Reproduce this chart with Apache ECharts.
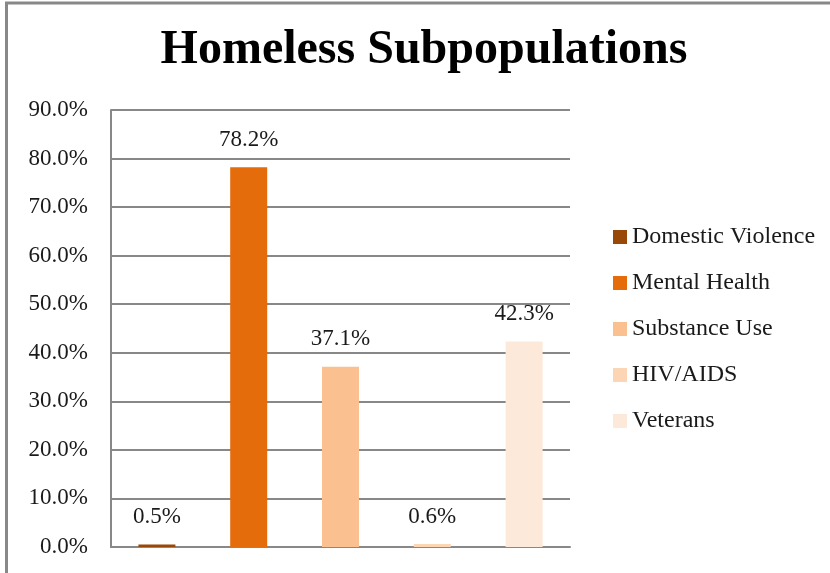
<!DOCTYPE html>
<html>
<head>
<meta charset="utf-8">
<script src="https://cdn.jsdelivr.net/npm/echarts@6/dist/echarts.min.js"></script>
<style>html,body{margin:0;padding:0;background:#fff}#c{width:830px;height:573px}</style>
</head>
<body>
<div id="c"></div>
<script>
var categories = ['Domestic Violence', 'Mental Health', 'Substance Use', 'HIV/AIDS', 'Veterans'];
var values = [0.5, 78.2, 37.1, 0.6, 42.3];
var colors = ['#984807', '#E46C0A', '#FAC090', '#FCD5B5', '#FDE9D9'];
var yTicks = [0, 10, 20, 30, 40, 50, 60, 70, 80, 90];

var FONT = '"Liberation Serif", "DejaVu Serif", serif';
var chart = echarts.init(document.getElementById('c'));

var series = categories.map(function (name, i) {
  var data = categories.map(function (_, j) { return j === i ? values[i] : null; });
  return {
    name: name,
    type: 'bar',
    stack: 'all',
    barWidth: 37,
    data: data,
    itemStyle: { color: colors[i] },
    label: {
      show: true,
      position: 'top',
      distance: 16,
      formatter: function (p) { return p.value.toFixed(1) + '%'; },
      fontFamily: FONT,
      fontSize: 23,
      color: '#1a1a1a'
    }
  };
});

chart.setOption({
  animation: false,
  title: {
    text: 'Homeless Subpopulations',
    left: 419,
    textAlign: 'center',
    top: 22,
    textStyle: { fontFamily: FONT, fontWeight: 'bold', fontSize: 48, color: '#000' }
  },
  graphic: [{
    type: 'rect',
    shape: { x: 6.5, y: 3, width: 1000, height: 1000 },
    style: { fill: 'none', stroke: '#888', lineWidth: 3 },
    silent: true
  }],
  legend: {
    orient: 'vertical',
    left: 608,
    top: 220,
    itemWidth: 14,
    itemHeight: 14,
    itemGap: 22,
    icon: 'rect',
    textStyle: { fontFamily: FONT, fontSize: 24, color: '#1a1a1a', lineHeight: 22 },
    data: categories
  },
  grid: { left: 111, right: 260, top: 110, bottom: 26 },
  xAxis: {
    type: 'category',
    data: categories,
    axisLabel: { show: false },
    axisTick: { show: false },
    axisLine: { show: true, lineStyle: { color: '#888', width: 2 } }
  },
  yAxis: {
    type: 'value',
    min: yTicks[0],
    max: yTicks[yTicks.length - 1],
    interval: 10,
    axisLine: { show: true, lineStyle: { color: '#888', width: 2 } },
    axisTick: { show: false },
    splitLine: { lineStyle: { color: '#888', width: 2 } },
    axisLabel: {
      formatter: function (v) { return v.toFixed(1) + '%'; },
      fontFamily: FONT,
      fontSize: 23,
      color: '#1a1a1a',
      margin: 23
    }
  },
  series: series
});
</script>
</body>
</html>
